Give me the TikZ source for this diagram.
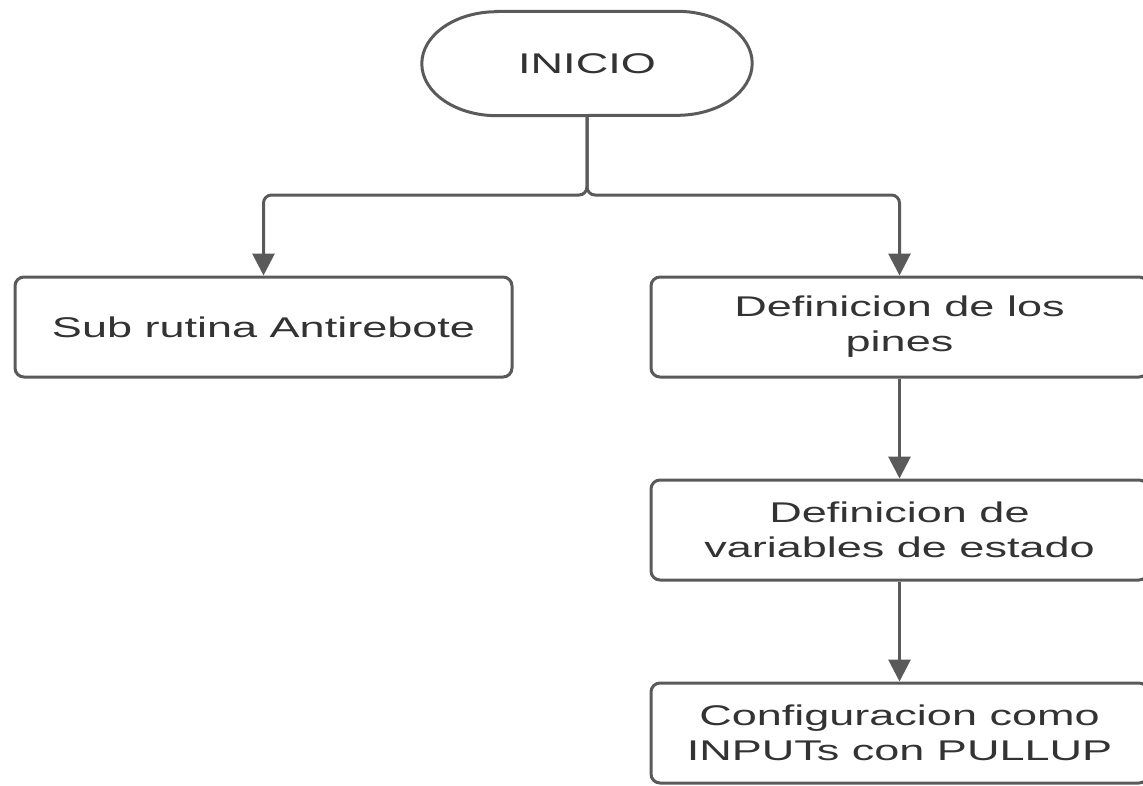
\documentclass[tikz,border=0pt]{standalone}
\usepackage{fontspec}
\setmainfont{Liberation Sans}[FakeStretch=1.58]
\usetikzlibrary{arrows.meta}
\definecolor{edgegray}{HTML}{5A5A5A}
\definecolor{textgray}{HTML}{333333}
\begin{document}
\begin{tikzpicture}[x=1pt,y=-1pt,
  every node/.style={font=\fontsize{28.5}{35}\selectfont, text=textgray, align=center, inner sep=0pt},
  procbox/.style={draw=edgegray, line width=3pt, rounded corners=9pt,
    minimum width=497pt, minimum height=100pt},
  conn/.style={draw=edgegray, line width=3pt, rounded corners=8pt,
    -{Triangle[width=22pt,length=22pt]}},
  trunk/.style={draw=edgegray, line width=3pt, rounded corners=8pt}]
  \useasboundingbox (0,0) rectangle (1143,785);

  % start terminal: a stadium drawn around the label
  \node[minimum width=330pt, minimum height=104pt] (inicio) at (587,63.5) {INICIO};
  \draw[edgegray, line width=3pt]
    ([xshift=75pt]inicio.north west) -- ([xshift=-75pt]inicio.north east)
    arc[start angle=90, end angle=-90, x radius=75pt, y radius=52pt]
    -- ([xshift=75pt]inicio.south west)
    arc[start angle=270, end angle=90, x radius=75pt, y radius=52pt] -- cycle;

  % process boxes
  \node[procbox] (sub)  at (263.5,327) {Sub rutina Antirebote};
  \node[procbox] (pins) at (899.5,327) {Definicion de los\\pines};
  \node[procbox] (vars) at (899.5,530) {Definicion de\\variables de estado};
  \node[procbox] (cfg)  at (899.5,733) {Configuracion como\\INPUTs con PULLUP};

  % branching from the start terminal
  \coordinate (jn) at (587,195);
  \draw[conn] (inicio.south) -- (jn) -| (sub.north);
  \draw[conn] (inicio.south) -- (jn) -| (pins.north);

  % sequential steps on the right
  \draw[conn] (pins.south) -- (vars.north);
  \draw[conn] (vars.south) -- (cfg.north);
\end{tikzpicture}
\end{document}
